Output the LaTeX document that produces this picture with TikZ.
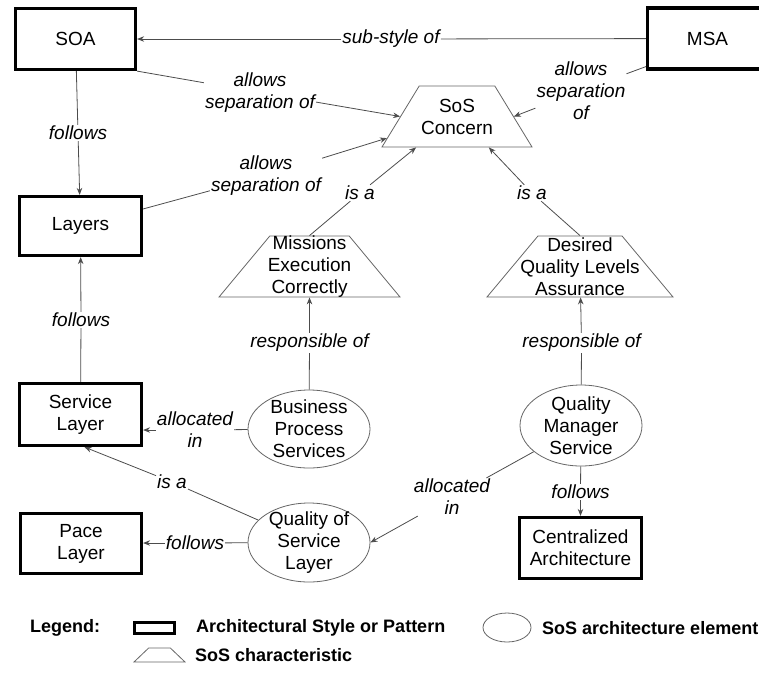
\documentclass[tikz,border=0pt]{standalone}
\usepackage{fontspec}
\setmainfont{Liberation Sans}
\usetikzlibrary{shapes.geometric,arrows.meta,calc}

\begin{document}
\begin{tikzpicture}[x=1pt,y=-1pt,
  every node/.style={font=\fontsize{19}{22}\selectfont},
  arch/.style={draw=black, line width=3.2pt, fill=white, inner sep=0pt, align=center},
  elem/.style={draw=black!60, line width=0.8pt, ellipse, fill=white, inner sep=0pt},
  charac/.style={draw=black!60, line width=0.8pt, trapezium, trapezium stretches=true,
    fill=white, inner sep=1pt},
  inner/.style={align=center, inner sep=0pt},
  rel/.style={font=\fontsize{19}{22}\selectfont\itshape, fill=white, inner sep=1pt, align=center},
  conn/.style={draw=black!70, line width=0.8pt},
  arr/.style={conn, -{Stealth[length=7pt,width=5.5pt]}},
  legtext/.style={font=\fontsize{18}{22}\selectfont\bfseries, inner sep=0pt, anchor=west},
]
\useasboundingbox (0,0) rectangle (759,675);

% architectural styles and patterns
\node[arch, minimum width=120, minimum height=61] (SOA) at (75.5,39) {SOA};
\node[arch, minimum width=120, minimum height=61] (MSA) at (707.5,38.5) {MSA};
\node[arch, minimum width=122, minimum height=59] (Layers) at (80.5,226) {Layers};
\node[arch, minimum width=122, minimum height=62] (SL) at (80.5,414.5) {Service\\Layer};
\node[arch, minimum width=121, minimum height=60] (Pace) at (81,543.5) {Pace\\Layer};
\node[arch, minimum width=122, minimum height=61] (Central) at (580.5,548) {Centralized\\Architecture};

% SoS characteristics
\node[charac, minimum width=150, minimum height=61, trapezium angle=63.8,
  label={[inner]center:SoS\\Concern}] (SoS) at (457,116.5) {};
\node[charac, minimum width=181, minimum height=61, trapezium angle=57.4,
  label={[inner]center:Missions\\Execution\\Correctly}] (Missions) at (309.5,266.5) {};
\node[charac, minimum width=186, minimum height=61, trapezium angle=58.8,
  label={[inner]center:Desired\\Quality Levels\\Assurance}] (Desired) at (580,266.5) {};

% SoS architecture elements
\node[elem, minimum width=122, minimum height=78,
  label={[inner]center:Business\\Process\\Services}] (BPS) at (309,429) {};
\node[elem, minimum width=122, minimum height=81,
  label={[inner]center:Quality\\Manager\\Service}] (QM) at (581,425.5) {};
\node[elem, minimum width=122, minimum height=79,
  label={[inner]center:Quality of\\Service\\Layer}] (QoS) at (309,542.5) {};

% relation labels
\node[rel] (lsub) at (391,39) {sub-style of};
\node[rel] (lsoa) at (260,92.5) {allows\\separation of};
\node[rel] (llay) at (266,175.5) {allows\\separation of};
\node[rel] (lmsa) at (581,90.5) {allows\\separation\\of};
\node[rel] (fsoa) at (78,133) {follows};
\node[rel] (isam) at (360,193) {is a};
\node[rel] (isad) at (532,193) {is a};
\node[rel] (fsl) at (81,320) {follows};
\node[rel] (rbps) at (309.5,343) {responsible of};
\node[rel] (rqm) at (581.5,343) {responsible of};
\node[rel] (albps) at (195,430) {allocated\\in};
\node[rel] (isaq) at (172,482) {is a};
\node[rel] (fq) at (195,543) {follows};
\node[rel] (alqm) at (452,497) {allocated\\in};
\node[rel] (fqm) at (580.5,492) {follows};

% connectors
\draw[conn] (MSA) -- (lsub);
\draw[arr] (lsub) -- (SOA);
\draw[conn] (SOA.south east) -- (lsoa);
\draw[arr] (lsoa) -- (SoS.west);
\draw[conn] (Layers) -- (llay);
\draw[arr] (llay) -- ($(SoS.bottom left corner)!0.15!(SoS.top left corner)$);
\draw[conn] ([yshift=4pt]MSA.south west) -- (lmsa);
\draw[arr] (lmsa) -- (SoS.east);
\draw[conn] (SOA) -- (fsoa);
\draw[arr] (fsoa) -- (Layers);
\draw[conn] (Missions.north) -- (isam);
\draw[arr] (isam) -- ($(SoS.bottom left corner)!0.23!(SoS.bottom right corner)$);
\draw[conn] (Desired.north) -- (isad);
\draw[arr] (isad) -- ($(SoS.bottom left corner)!0.71!(SoS.bottom right corner)$);
\draw[conn] (SL) -- (fsl);
\draw[arr] (fsl) -- (Layers);
\draw[conn] (BPS) -- (rbps);
\draw[arr] (rbps) -- (Missions);
\draw[conn] (QM) -- (rqm);
\draw[arr] (rqm) -- (Desired);
\draw[conn] (BPS) -- (albps);
\draw[arr] (albps) -- (albps -| SL.east);
\draw[conn] (QoS) -- (isaq);
\draw[arr] (isaq) -- ([xshift=4pt]SL.south);
\draw[conn] (QoS) -- (fq);
\draw[arr] (fq) -- (fq -| Pace.east);
\draw[conn] (QM) -- (alqm);
\draw[arr] (alqm) -- (QoS.east);
\draw[conn] (QM) -- (fqm);
\draw[arr] (fqm) -- (Central);

% legend
\node[legtext] (leg) at (30,628) {Legend:};
\node[arch, line width=3pt, minimum width=40, minimum height=11] (legarch) at (154.5,628) {};
\node[legtext] (legarcht) at (196,628) {Architectural Style or Pattern};
\node[elem, minimum width=48, minimum height=29] (legelem) at (507,627.5) {};
\node[legtext] (legelemt) at (542,628) {SoS architecture element};
\node[charac, minimum width=51, minimum height=14, trapezium angle=56] (legchar) at (159.5,655) {};
\node[legtext] (legchart) at (195,655) {SoS characteristic};
\end{tikzpicture}
\end{document}
